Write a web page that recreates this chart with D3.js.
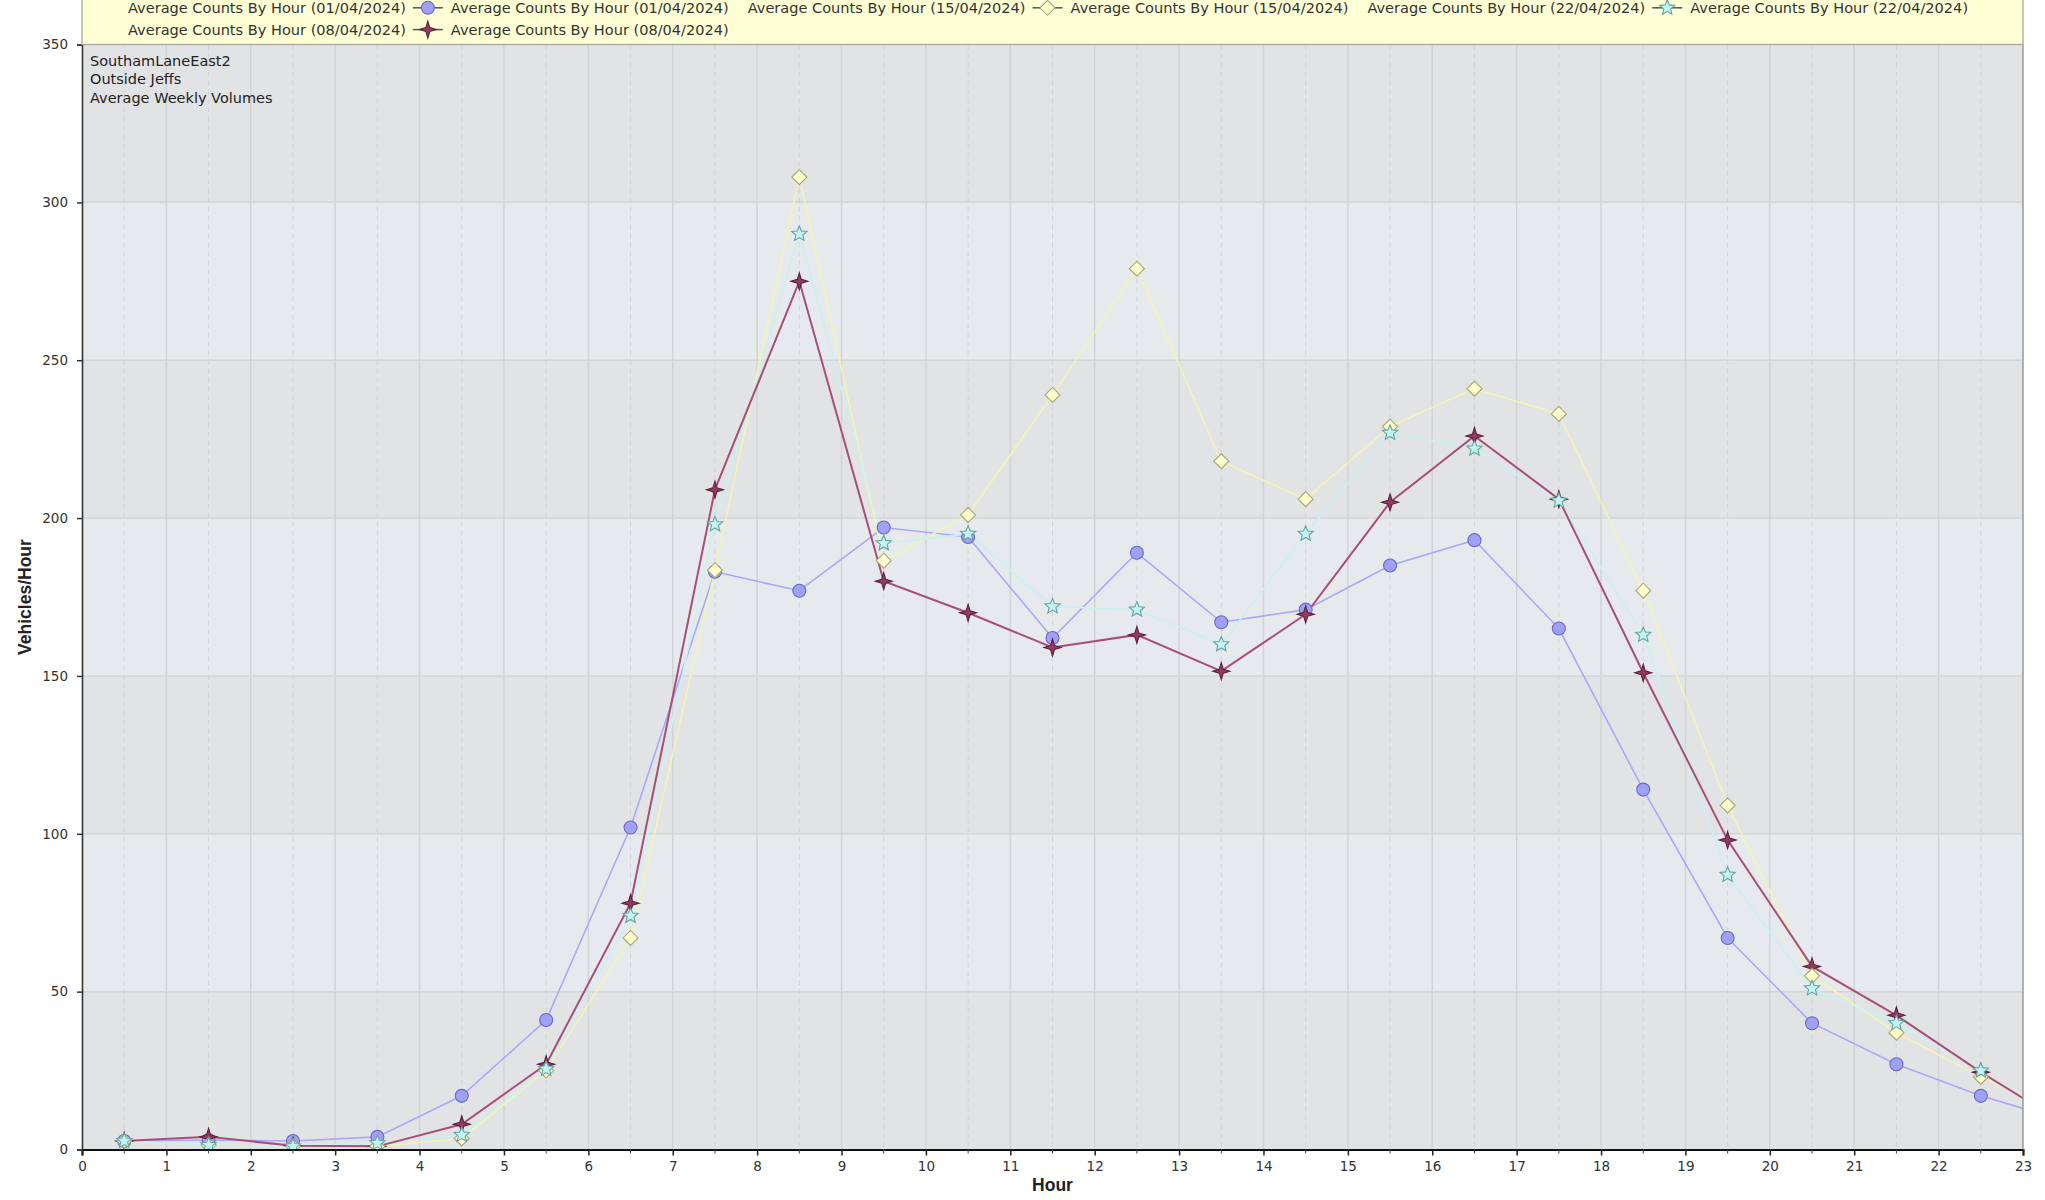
<!DOCTYPE html>
<html><head><meta charset="utf-8">
<script src="https://cdn.jsdelivr.net/npm/d3@7"></script>
<style>html,body{margin:0;padding:0;background:#fff;overflow:hidden}</style>
</head><body><svg id="c" width="2045" height="1200"></svg>
<script>
// ---- data ----
const hours = [0.5,1.5,2.5,3.5,4.5,5.5,6.5,7.5,8.5,9.5,10.5,11.5,12.5,13.5,14.5,15.5,16.5,17.5,18.5,19.5,20.5,21.5,22.5,23.5];
const counts0104 = [2.7,3,2.7,4,17,41,102,183,177,197,194,162,189,167,171,185,193,165,114,67,40,27,17,9];
const counts1504 = [2.7,1.4,1,1,3.5,25,67,183.5,308,186.5,201,239,279,218,206,229,241,233,177,109,55,37,23,11];
const counts2204 = [2.7,1.4,1,2,4.6,25.5,74,198,290,192,195,172,171,160,195,227,222,205.5,163,87,51,40,25,7];
const counts0804 = [2.7,4,1.2,1,8,27,78,209,275,180,170,159,163,151.5,169.5,205,226,206,151,98,58,42.5,24.5,8];
const seriesNames = ['Average Counts By Hour (01/04/2024)','Average Counts By Hour (15/04/2024)','Average Counts By Hour (22/04/2024)','Average Counts By Hour (08/04/2024)'];
const xTicks = [0,1,2,3,4,5,6,7,8,9,10,11,12,13,14,15,16,17,18,19,20,21,22,23];
const yTicks = [0,50,100,150,200,250,300,350];
const annotation = ['SouthamLaneEast2','Outside Jeffs','Average Weekly Volumes'];

// ---- styles ----
const styles = [
  {shape:'circle', line:'#a9a9fb', fill:'#a0a0f4', stroke:'#6868c8'},
  {shape:'diamond', line:'#f3f3b4', fill:'#ffffcc', stroke:'#a6a67a'},
  {shape:'star5', line:'#c9f1f1', fill:'#c6f3f3', stroke:'#62a6a2'},
  {shape:'star4', line:'#a84f76', fill:'#933a60', stroke:'#5c2139'}
];
const seriesValues = [counts0104, counts1504, counts2204, counts0804];

const svg = d3.select('#c');
const L = 82, R = 2023, T = 44.5, B = 1149.5;
const x = d3.scaleLinear().domain([0,23]).range([L,R]);
const y = d3.scaleLinear().domain([0,350]).range([B,T]);
const FONT = 'DejaVu Sans, Verdana, sans-serif';

function shapePath(shape){
  if(shape==='circle'){ const r=6.5; return `M${r},0A${r},${r} 0 1,1 ${-r},0A${r},${r} 0 1,1 ${r},0Z`; }
  if(shape==='diamond'){ const r=7.5; return `M0,${-r}L${r},0L0,${r}L${-r},0Z`; }
  if(shape==='star5'){ const ro=8, ri=3.6; let p=[]; for(let i=0;i<10;i++){const a=-Math.PI/2+i*Math.PI/5; const rr=i%2?ri:ro; p.push([rr*Math.cos(a),rr*Math.sin(a)]);} return 'M'+p.map(d=>d.join(',')).join('L')+'Z'; }
  if(shape==='star4'){ const ro=8.5, ri=2.8; let p=[]; for(let i=0;i<8;i++){const a=-Math.PI/2+i*Math.PI/4; const rr=i%2?ri:ro; p.push([rr*Math.cos(a),rr*Math.sin(a)]);} return 'M'+p.map(d=>d.join(',')).join('L')+'Z'; }
}

// plot background bands
const bands = d3.range(yTicks.length-1);
svg.selectAll('rect.band').data(bands).enter().append('rect')
  .attr('x',L).attr('width',R-L)
  .attr('y',i=>y(yTicks[i+1])).attr('height',i=>y(yTicks[i])-y(yTicks[i+1]))
  .attr('fill',i=>i%2===0?'#e2e3e5':'#e7eaed');

// grid lines
const g = svg.append('g');
g.selectAll('line.hg').data(yTicks.slice(1,-1)).enter().append('line')
  .attr('x1',L).attr('x2',R).attr('y1',d=>y(d)).attr('y2',d=>y(d))
  .attr('stroke','#d3d4d6').attr('stroke-width',1.5);
g.selectAll('line.vg').data(xTicks.slice(1,-1)).enter().append('line')
  .attr('y1',T).attr('y2',B).attr('x1',d=>x(d)).attr('x2',d=>x(d))
  .attr('stroke','#d2d3d5').attr('stroke-width',1.5);
g.selectAll('line.vm').data(hours.filter(h=>h<23)).enter().append('line')
  .attr('y1',T).attr('y2',B).attr('x1',d=>x(d)).attr('x2',d=>x(d))
  .attr('stroke','#d3d4d6').attr('stroke-width',1).attr('stroke-dasharray','5,4');

// clip
svg.append('clipPath').attr('id','clip').append('rect').attr('x',L).attr('y',T).attr('width',R-L).attr('height',B-T);

// annotation
svg.append('g').selectAll('text').data(annotation).enter().append('text')
  .attr('x',90).attr('y',(d,i)=>65.5+i*18.5).text(d=>d)
  .attr('font-family',FONT).attr('font-size',14.5).attr('fill','#222');

// lines
const lineGen = d3.line().x((d,i)=>x(hours[i])).y(d=>y(d));
const lineOrder = [0,1,2,3];
const lg = svg.append('g').attr('clip-path','url(#clip)');
lineOrder.forEach(si=>{
  lg.append('path').datum(seriesValues[si]).attr('d',lineGen)
    .attr('fill','none').attr('stroke',styles[si].line).attr('stroke-width',si===3?2:1.6);
});
// markers
const markerOrder = [0,3,1,2];
const mg = svg.append('g').attr('clip-path','url(#clip)');
markerOrder.forEach(si=>{
  mg.selectAll(null).data(seriesValues[si].map((v,i)=>[hours[i],v]).filter(d=>d[0]<23)).enter().append('path')
    .attr('d',shapePath(styles[si].shape))
    .attr('transform',d=>`translate(${x(d[0])},${y(d[1])})`)
    .attr('fill',styles[si].fill).attr('stroke',styles[si].stroke).attr('stroke-width',1.1);
});

// axes
const ax = svg.append('g').attr('transform',`translate(0,${B})`)
  .call(d3.axisBottom(x).tickValues(xTicks).tickSize(6).tickFormat(d3.format('d')));
ax.select('.domain').attr('stroke','#111').attr('stroke-width',2);
ax.selectAll('.tick line').attr('stroke','#222').attr('stroke-width',1.5);
ax.selectAll('.tick text').attr('font-family',FONT).attr('font-size',13.5).attr('fill','#333').attr('dy','0.95em');
svg.append('g').selectAll('line').data(hours.filter(h=>h<23)).enter().append('line')
  .attr('x1',d=>x(d)).attr('x2',d=>x(d)).attr('y1',B).attr('y2',B+4).attr('stroke','#444').attr('stroke-width',1);

const ay = svg.append('g').attr('transform',`translate(${L},0)`)
  .call(d3.axisLeft(y).tickValues(yTicks).tickSize(5).tickPadding(9));
ay.select('.domain').attr('stroke','#333').attr('stroke-width',1.6);
ay.selectAll('.tick line').attr('stroke','#333').attr('stroke-width',1.5);
ay.selectAll('.tick text').attr('font-family',FONT).attr('font-size',13.5).attr('fill','#333');

// right border
svg.append('line').attr('x1',R).attr('x2',R).attr('y1',T).attr('y2',B).attr('stroke','#9a9a9a').attr('stroke-width',1.5);

// axis titles
svg.append('text').attr('x',(L+R)/2).attr('y',1191).attr('text-anchor','middle')
  .attr('font-family','Liberation Sans, Arial, sans-serif').attr('font-weight','bold').attr('font-size',17.5).attr('fill','#222').text('Hour');
svg.append('text').attr('transform',`translate(31,${(T+B)/2}) rotate(-90)`).attr('text-anchor','middle')
  .attr('font-family','Liberation Sans, Arial, sans-serif').attr('font-weight','bold').attr('font-size',17.5).attr('fill','#222').text('Vehicles/Hour');

// legend
svg.append('rect').attr('x',L).attr('y',-20).attr('width',R-L).attr('height',T+20)
  .attr('fill','#ffffd6').attr('stroke','#a8a8a0').attr('stroke-width',1.3);
const legendRows = [
  [{s:0,m:false},{s:0,m:true},{s:1,m:false},{s:1,m:true},{s:2,m:false},{s:2,m:true}],
  [{s:3,m:false},{s:3,m:true}]
];
const rowBase = [13.2, 35], rowMid = [7.8, 29.6];
const leg = svg.append('g');
legendRows.forEach((row,ri)=>{
  let end = null;
  row.forEach(it=>{
    let tx;
    if(end===null) tx = 128;
    else if(it.m){
      const cx = end+22;
      leg.append('line').attr('x1',cx-15).attr('x2',cx+15).attr('y1',rowMid[ri]).attr('y2',rowMid[ri]).attr('stroke','#555').attr('stroke-width',1.5);
      leg.append('path').attr('d',shapePath(styles[it.s].shape)).attr('transform',`translate(${cx},${rowMid[ri]})`)
        .attr('fill',styles[it.s].fill).attr('stroke',styles[it.s].stroke).attr('stroke-width',1.1);
      tx = end+45;
    } else tx = end+19;
    const t = leg.append('text').attr('x',tx).attr('y',rowBase[ri]).text(seriesNames[it.s])
      .attr('font-family',FONT).attr('font-size',14.55).attr('fill','#333');
    end = tx + t.node().getComputedTextLength();
  });
});
</script></body></html>
